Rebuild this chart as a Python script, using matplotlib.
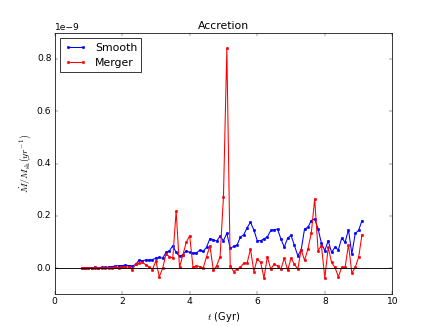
import matplotlib
matplotlib.use("Agg")
import matplotlib.pyplot as plt

plt.style.use("classic")

# time of each snapshot (Gyr)
t = [0.8, 0.9, 1.0, 1.1, 1.2, 1.3, 1.4, 1.5, 1.6, 1.7,
     1.8, 1.9, 2.0, 2.1, 2.2, 2.3, 2.4, 2.5, 2.6, 2.7,
     2.8, 2.9, 3.0, 3.1, 3.2, 3.3, 3.4, 3.5, 3.6, 3.7,
     3.8, 3.9, 4.0, 4.1, 4.2, 4.3, 4.4, 4.5, 4.6, 4.7,
     4.8, 4.9, 5.0, 5.1, 5.2, 5.3, 5.4, 5.5, 5.6, 5.7,
     5.8, 5.9, 6.0, 6.1, 6.2, 6.3, 6.4, 6.5, 6.6, 6.7,
     6.8, 6.9, 7.0, 7.1, 7.2, 7.3, 7.4, 7.5, 7.6, 7.7,
     7.8, 7.9, 8.0, 8.1, 8.2, 8.3, 8.4, 8.5, 8.6, 8.7,
     8.8, 8.9, 9.0, 9.1]

# accretion rates in units of 1e-9 /yr
smooth = [0.000, 0.000, 0.001, 0.002, 0.003, 0.002, 0.003, 0.003, 0.004, 0.006,
          0.008, 0.009, 0.010, 0.011, 0.010, 0.008, 0.014, 0.030, 0.028, 0.031,
          0.031, 0.033, 0.038, 0.041, 0.038, 0.060, 0.066, 0.086, 0.060, 0.045,
          0.052, 0.066, 0.060, 0.058, 0.058, 0.069, 0.064, 0.080, 0.113, 0.109,
          0.103, 0.122, 0.105, 0.133, 0.076, 0.083, 0.088, 0.118, 0.128, 0.154,
          0.176, 0.146, 0.105, 0.105, 0.112, 0.120, 0.144, 0.147, 0.149, 0.112,
          0.080, 0.115, 0.125, 0.087, 0.047, 0.070, 0.150, 0.156, 0.182, 0.188,
          0.150, 0.095, 0.067, 0.105, 0.060, 0.080, 0.070, 0.115, 0.099, 0.147,
          0.054, 0.133, 0.144, 0.182]

merger = [0.000, 0.000, 0.000, 0.001, 0.000, 0.001, 0.001, 0.000, 0.002, 0.001,
          0.003, 0.002, 0.004, 0.005, 0.004, -0.006, 0.015, 0.018, 0.022, 0.013,
          0.005, -0.006, 0.028, -0.033, -0.001, 0.054, 0.044, 0.038, 0.218, 0.003,
          0.051, 0.099, 0.124, 0.003, 0.009, 0.006, 0.000, 0.044, 0.085, -0.008,
          0.009, 0.044, 0.272, 0.840, 0.009, -0.013, -0.004, 0.003, 0.019, 0.019,
          0.073, -0.013, 0.035, 0.022, -0.038, 0.044, -0.004, 0.015, 0.009, -0.004,
          0.038, -0.008, 0.038, 0.015, -0.004, 0.071, 0.030, 0.073, 0.135, 0.265,
          0.067, 0.086, -0.038, 0.079, 0.022, 0.003, -0.033, 0.003, 0.003, 0.090,
          -0.019, 0.003, 0.041, 0.128]

scale = 1e-9

fig = plt.figure(figsize=(8, 6), dpi=54.5)
ax = fig.add_subplot(1, 1, 1)

ax.plot(t, [v * scale for v in smooth], "b.-", lw=1.4, ms=7, label="Smooth")
ax.plot(t, [v * scale for v in merger], "r.-", lw=1.4, ms=7, label="Merger")
ax.axhline(0, color="k", lw=1.2)

ax.set_xlim(0, 10)
ax.set_ylim(-0.1e-9, 0.9e-9)
ax.ticklabel_format(axis="y", style="sci", scilimits=(-9, -9))
ax.set_title("Accretion")
ax.set_xlabel(r"$t$ (Gyr)", fontsize=13)
ax.set_ylabel(r"$\dot{M}/M_{\rm sh}(yr^{-1})$", fontsize=13)
ax.legend(loc="upper left")

fig.savefig("out.png", dpi=54.5)
